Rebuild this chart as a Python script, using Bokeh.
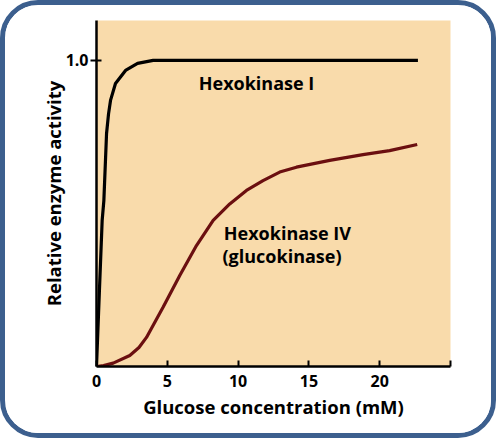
from bokeh.plotting import figure
from bokeh.models import FixedTicker
from bokeh.core.properties import value
from bokeh.embed import file_html
from bokeh.resources import INLINE

# Data
hk1_x = [0, 0.2, 0.4, 0.52, 0.71, 0.85, 0.99, 1.34, 2.05, 2.9, 4.0, 22.7]
hk1_y = [0, 0.24, 0.477, 0.542, 0.761, 0.825, 0.869, 0.924, 0.967, 0.99, 1.0, 1.0]

hk4_x = [0, 0.5, 1.18, 2.35, 3.0, 3.53, 4.71, 5.88, 7.06, 8.24, 9.41, 10.59, 11.76,
         12.94, 14.12, 16.47, 18.82, 20.7, 22.65]
hk4_y = [0, 0.003, 0.011, 0.036, 0.062, 0.095, 0.194, 0.297, 0.395, 0.477, 0.531, 0.575, 0.607,
         0.635, 0.651, 0.673, 0.692, 0.705, 0.725]

x_ticks = [0, 5, 10, 15, 20, 25]
x_tick_labels = {25: ""}
y_ticks = [1.0]
y_tick_labels = {1: "1.0"}

FONT = "Open Sans"
BORDER = 5
W, H = 496 - 2 * BORDER, 438 - 2 * BORDER
CW, CH = W + 2 * BORDER, H + 2 * BORDER   # canvas size actually laid out
# frame edges, in canvas pixels (page pixels minus the border)
FL, FR, FT, FB = 96 - BORDER, 450 - BORDER, 20 - BORDER, 366 - BORDER

p = figure(width=W, height=H, output_backend="svg", toolbar_location=None,
           x_range=(0, 25), y_range=(0, 1.13),
           min_border_left=FL, min_border_right=CW - FR,
           min_border_top=FT, min_border_bottom=CH - FB)
p.styles = {"border": f"{BORDER}px solid #3c5f8e", "border-radius": "38px",
            "overflow": "hidden", "box-sizing": "content-box"}
p.background_fill_color = "#f9dbab"
p.border_fill_color = "white"
p.outline_line_color = None
p.grid.visible = False

for ax in (p.xaxis[0], p.yaxis[0]):
    ax.axis_line_color = "black"
    ax.axis_line_width = 2.5
    ax.major_tick_line_color = "black"
    ax.major_tick_line_width = 2
    ax.minor_tick_line_color = None
    ax.major_label_text_font = FONT
    ax.major_label_text_font_style = "bold"
    ax.major_label_text_font_size = "16px"
    ax.major_label_text_color = "black"
    ax.axis_label_text_font = FONT
    ax.axis_label_text_font_style = "bold"
    ax.axis_label_text_font_size = "18.5px"
    ax.axis_label_text_color = "black"

xa = p.xaxis[0]
xa.ticker = FixedTicker(ticks=x_ticks)
xa.major_label_overrides = x_tick_labels
xa.major_tick_in = 6
xa.major_tick_out = 0
xa.major_label_standoff = 8
xa.axis_label = "Glucose concentration (mM)"
xa.axis_label_standoff = 4

ya = p.yaxis[0]
ya.ticker = FixedTicker(ticks=y_ticks)
ya.major_label_overrides = y_tick_labels
ya.major_tick_in = 5
ya.major_tick_out = 6
ya.major_label_standoff = 2
ya.axis_label = "Relative enzyme activity"
ya.axis_label_standoff = -3

p.line(hk1_x, hk1_y, line_color="black", line_width=3.2)
p.line(hk4_x, hk4_y, line_color="#6b0f10", line_width=3.2)

p.text(x=[7.22], y=[0.925], text=["Hexokinase I"], text_font=value(FONT),
       text_font_style="bold", text_font_size="18px", text_baseline="alphabetic")
p.text(x=[8.99], y=[0.435], text=["Hexokinase IV"], text_font=value(FONT),
       text_font_style="bold", text_font_size="18px", text_baseline="alphabetic")
p.text(x=[8.9], y=[0.36], text=["(glucokinase)"], text_font=value(FONT),
       text_font_style="bold", text_font_size="18px", text_baseline="alphabetic")

open("out.html", "w").write(file_html(p, INLINE))
